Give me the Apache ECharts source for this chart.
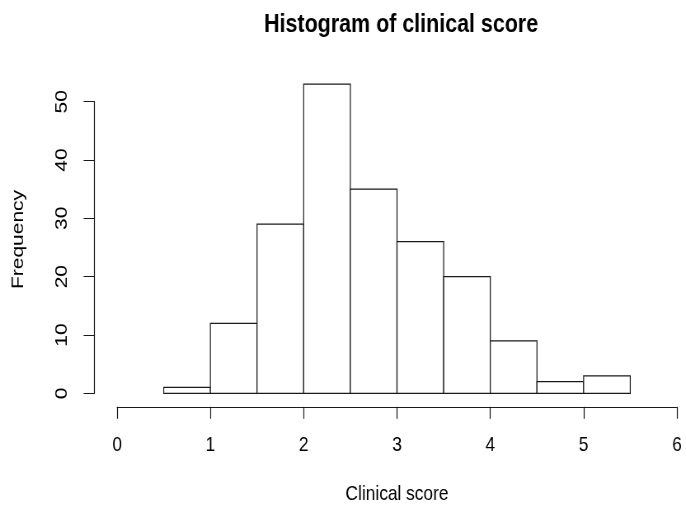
<!DOCTYPE html>
<html>
<head>
<meta charset="utf-8">
<script src="https://cdn.jsdelivr.net/npm/echarts@6/dist/echarts.min.js"></script>
<style>
  html, body { margin: 0; padding: 0; background: #ffffff; overflow: hidden; }
  /* The chart is laid out on a wider canvas and squeezed horizontally,
     giving the tall, narrow lettering of the original graphics device. */
  #chart {
    width: 832px;
    height: 510px;
    transform: scaleX(0.8245);
    transform-origin: 0 0;
  }
</style>
</head>
<body>
<div id="chart"></div>
<script>
// Histogram bins: lower/upper break of each bin and its count
var binStart = [0.5, 1.0, 1.5, 2.0, 2.5, 3.0, 3.5, 4.0, 4.5, 5.0];
var binEnd   = [1.0, 1.5, 2.0, 2.5, 3.0, 3.5, 4.0, 4.5, 5.0, 5.5];
var counts   = [1, 12, 29, 53, 35, 26, 20, 9, 2, 3];

var xTicks = [0, 1, 2, 3, 4, 5, 6];
var yTicks = [0, 10, 20, 30, 40, 50];

var FONT = 'Liberation Sans, Arial, Helvetica, sans-serif';
var INK = '#1a1a1a';

var binData = binStart.map(function (s, i) { return [s, binEnd[i], counts[i]]; });

var chart = echarts.init(document.getElementById('chart'), null, { renderer: 'canvas' });

chart.setOption({
  backgroundColor: '#ffffff',
  animation: false,
  title: {
    text: 'Histogram of clinical score',
    left: 481.5,
    top: 7,
    textAlign: 'center',
    textStyle: { fontFamily: FONT, fontSize: 26, fontWeight: 'bold', color: '#000' }
  },
  grid: { left: 142, right: 11, top: 101.7, bottom: 116.7, containLabel: false },
  xAxis: {
    type: 'value',
    min: xTicks[0],
    max: xTicks[xTicks.length - 1],
    interval: 1,
    offset: 13.5,
    name: 'Clinical score',
    nameLocation: 'middle',
    nameGap: 77,
    nameTextStyle: { fontFamily: FONT, fontSize: 21, color: '#000' },
    axisLine: { show: true, onZero: false, lineStyle: { color: INK, width: 1 } },
    axisTick: { show: true, length: 12, lineStyle: { color: INK, width: 1.2 } },
    axisLabel: { margin: 28, fontFamily: FONT, fontSize: 21, color: '#000' },
    splitLine: { show: false }
  },
  yAxis: {
    type: 'value',
    min: yTicks[0],
    max: yTicks[yTicks.length - 1],
    interval: 10,
    offset: 27.3,
    name: 'Frequency',
    nameLocation: 'middle',
    nameRotate: 90,
    nameGap: 82,
    // centred on the whole plotting region, a little above the axis middle
    nameTextStyle: { fontFamily: FONT, fontSize: 21, color: '#000', padding: [0, 0, 0, 16] },
    axisLine: { show: true, onZero: false, lineStyle: { color: INK, width: 1.2 } },
    axisTick: { show: true, length: 13.3, lineStyle: { color: INK, width: 1 } },
    axisLabel: { rotate: 90, margin: 29, fontFamily: FONT, fontSize: 21, color: '#000' },
    splitLine: { show: false }
  },
  series: [{
    type: 'custom',
    clip: false,
    data: binData,
    encode: { x: [0, 1], y: 2 },
    renderItem: function (params, api) {
      var topLeft = api.coord([api.value(0), api.value(2)]);
      var bottomRight = api.coord([api.value(1), 0]);
      return {
        type: 'rect',
        shape: {
          x: topLeft[0],
          y: topLeft[1],
          width: bottomRight[0] - topLeft[0],
          height: bottomRight[1] - topLeft[1]
        },
        style: { fill: '#ffffff', stroke: INK, lineWidth: 1.2 }
      };
    }
  }]
});
</script>
</body>
</html>
